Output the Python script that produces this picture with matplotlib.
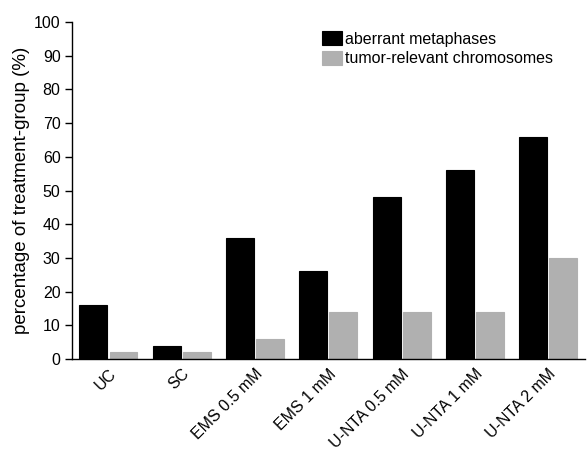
import matplotlib
matplotlib.use("Agg")
import matplotlib.pyplot as plt
import numpy as np

plt.rcParams['font.family'] = ['Liberation Sans', 'DejaVu Sans']

categories = ["UC", "SC", "EMS 0.5 mM", "EMS 1 mM", "U-NTA 0.5 mM", "U-NTA 1 mM", "U-NTA 2 mM"]
aberrant = [16, 4, 36, 26, 48, 56, 66]
tumor = [2, 2, 6, 14, 14, 14, 30]
series_labels = ["aberrant metaphases", "tumor-relevant chromosomes"]

fig = plt.figure(figsize=(5.88, 4.5), dpi=100)
ax = fig.add_axes([0.122, 0.202, 0.873, 0.749])

x = np.arange(len(categories))
w = 0.38
ax.bar(x - w/2 - 0.015, aberrant, width=w, color='black', edgecolor='black', linewidth=0.8, label=series_labels[0])
ax.bar(x + w/2 + 0.015, tumor, width=w, color='#b0b0b0', edgecolor='#b0b0b0', linewidth=0.8, label=series_labels[1])

ax.set_xlim(-0.5, 6.5)
ax.set_ylim(0, 100)
ax.set_yticks(np.arange(0, 101, 10))
ax.tick_params(axis='y', labelsize=11.5, length=5, width=1, direction='out', pad=3)
ax.tick_params(axis='x', length=0, labelsize=11.5, pad=5)
ax.set_xticks(x)
ax.set_xticklabels(categories, rotation=45, ha='right', rotation_mode='anchor')
ax.set_ylabel("percentage of treatment-group (%)", fontsize=13.5, labelpad=3)

for s in ['top', 'right']:
    ax.spines[s].set_visible(False)
for s in ['left', 'bottom']:
    ax.spines[s].set_linewidth(1)

leg = ax.legend(loc='upper left', bbox_to_anchor=(0.46, 1.015), frameon=False, fontsize=11.5,
                handlelength=1.25, handleheight=0.9, handletextpad=0.15, labelspacing=0.3)

fig.savefig("out.png", dpi=100)
